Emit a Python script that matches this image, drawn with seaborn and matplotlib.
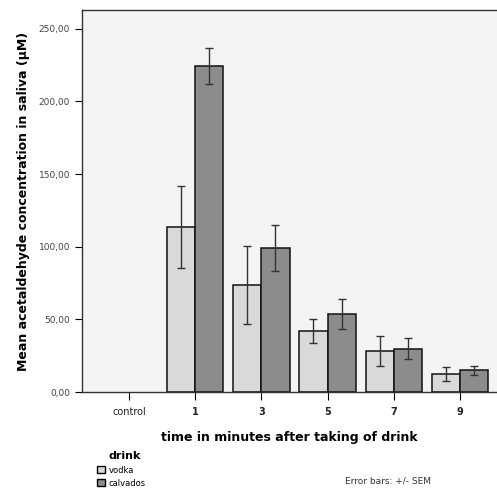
import pandas as pd
import seaborn as sns
import matplotlib.pyplot as plt
from matplotlib.patches import Patch

# values
times = ['control', '1', '3', '5', '7', '9']
measured = ['1', '3', '5', '7', '9']
vodka_mean = [113.6, 73.7, 42.0, 28.3, 12.4]
vodka_sem = [28.0, 27.0, 8.0, 10.0, 5.0]
calvados_mean = [224.5, 99.0, 53.7, 30.0, 15.0]
calvados_sem = [12.5, 16.0, 10.5, 7.0, 3.0]
drinks = ['vodka', 'calvados']
colors = {'vodka': '#d9d9d9', 'calvados': '#8c8c8c'}

df = pd.DataFrame({
    'time': measured * 2,
    'drink': ['vodka'] * 5 + ['calvados'] * 5,
    'mean': vodka_mean + calvados_mean,
    'sem': vodka_sem + calvados_sem,
})

fig = plt.figure(figsize=(4.97, 4.92), dpi=100)
ax = fig.add_axes([0.165, 0.203, 0.835, 0.777])
ax.set_facecolor('#f4f4f4')

sns.barplot(data=df, x='time', y='mean', hue='drink', order=times,
            hue_order=drinks, palette=colors, errorbar=None, width=0.85,
            edgecolor='#111111', linewidth=1.1, legend=False, ax=ax)

# error bars at the bar centres seaborn placed
for container, drink in zip(ax.containers, drinks):
    sub = df[df['drink'] == drink]
    xs = [p.get_x() + p.get_width() / 2 for p in container.patches]
    ax.errorbar(xs, sub['mean'], yerr=sub['sem'], fmt='none',
                ecolor='#333333', elinewidth=1.0, capsize=3, capthick=1.0)

ax.set_ylim(0, 263)
ax.set_xlim(-0.71, 5.56)
ax.set_yticks([0, 50, 100, 150, 200, 250])
ax.set_yticklabels(['0,00', '50,00', '100,00', '150,00', '200,00', '250,00'],
                   fontsize=6.5, color='#444444')
ax.tick_params(axis='x', labelsize=7, length=6, direction='out', pad=5,
               labelcolor='#222222')
ax.tick_params(axis='y', length=5, direction='out')
for lab in ax.get_xticklabels():
    if lab.get_text() != 'control':
        lab.set_fontweight('bold')

ax.spines['right'].set_visible(False)
for s in ['left', 'top', 'bottom']:
    ax.spines[s].set_color('#333333')
    ax.spines[s].set_linewidth(1.0)

ax.set_xlabel('time in minutes after taking of drink', fontsize=9,
              fontweight='bold', labelpad=10)
ax.set_ylabel('Mean acetaldehyde concentration in saliva (\u00b5M)',
              fontsize=9, fontweight='bold', labelpad=6)

handles = [Patch(facecolor=colors[d], edgecolor='black', label=d)
           for d in drinks]
fig.text(0.218, 0.068, 'drink', fontsize=8, fontweight='bold')
fig.legend(handles=handles, loc='upper left',
           bbox_to_anchor=(0.187, 0.062), frameon=False, fontsize=6,
           handlelength=0.9, handleheight=0.9, handletextpad=0.5,
           labelspacing=0.5, borderpad=0.0)
fig.text(0.694, 0.018, 'Error bars: +/- SEM', fontsize=6.5, color='#333333')

plt.savefig('out.png', dpi=100)
